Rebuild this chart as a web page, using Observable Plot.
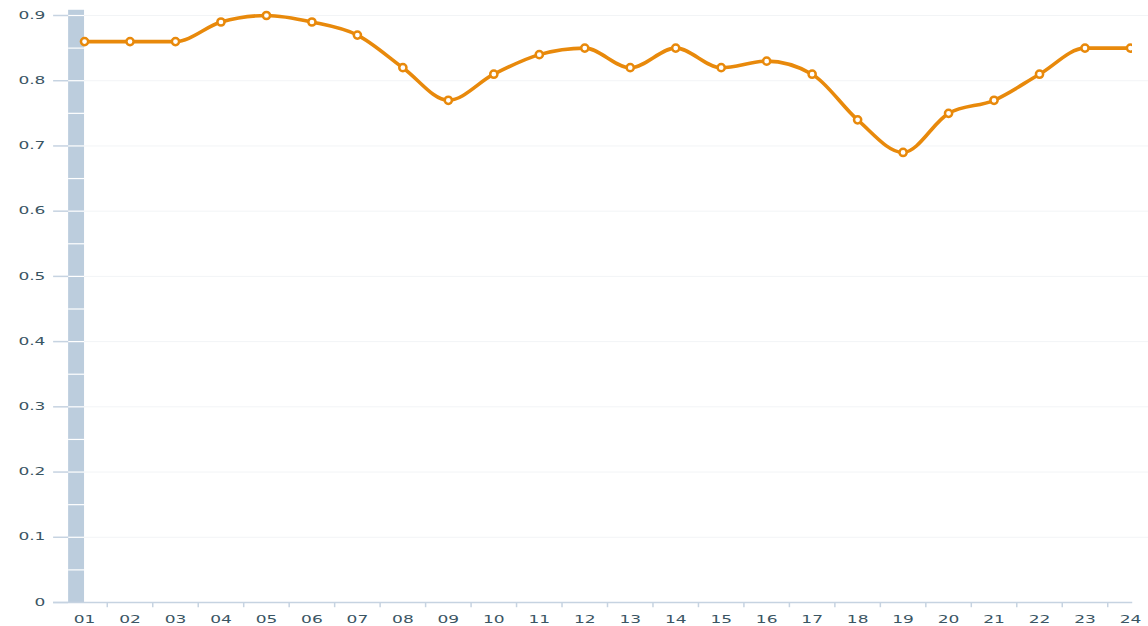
<!DOCTYPE html>
<html>
<head>
<meta charset="utf-8">
<script src="https://cdn.jsdelivr.net/npm/d3@7"></script>
<script src="https://cdn.jsdelivr.net/npm/@observablehq/plot@0.6"></script>
<style>
  html, body { margin: 0; padding: 0; background: #fff; }
  #chart svg { display: block; }
</style>
</head>
<body>
<div id="chart"></div>
<script>
const categories = ["01","02","03","04","05","06","07","08","09","10","11","12","13","14","15","16","17","18","19","20","21","22","23","24"];
const values = [0.86,0.86,0.86,0.89,0.90,0.89,0.87,0.82,0.77,0.81,0.84,0.85,0.82,0.85,0.82,0.83,0.81,0.74,0.69,0.75,0.77,0.81,0.85,0.85];
const yTicks = [0,0.1,0.2,0.3,0.4,0.5,0.6,0.7,0.8,0.9];
const bandLines = d3.range(0.05, 0.91, 0.05);

const data = categories.map((c, i) => ({i: i + 1, cat: c, v: values[i]}));
const xIdx = d3.range(1, categories.length + 1);
const xBounds = d3.range(1.5, categories.length, 1);

const orange = "#e8890b";
const textColor = "#3a5563";
const axisColor = "#c6d3e1";

const chart = Plot.plot({
  width: 1148,
  height: 626,
  marginTop: 0, marginBottom: 0, marginLeft: 0, marginRight: 16,
  x: {type: "linear", domain: [0.5, 24.5], range: [61.3, 1152.7], axis: null},
  y: {domain: [0, 0.9], range: [602, 15], axis: null},
  style: {fontFamily: "DejaVu Sans, sans-serif", fontSize: "10px", background: "#fff"},
  marks: [
    Plot.ruleY(yTicks.slice(1), {x1: 1, x2: 24.5, stroke: "#f2f4f6", strokeWidth: 1}),
    Plot.rectY([{x1: 0.65, x2: 1.0, y1: 0, y2: 0.908}], {x1: "x1", x2: "x2", y1: "y1", y2: "y2", fill: "#bccddd"}),
    Plot.ruleY(bandLines, {x1: 0.65, x2: 1.0, stroke: "#ffffff", strokeWidth: 1.2}),
    Plot.ruleY(yTicks, {x1: 0.32, x2: 0.65, stroke: axisColor, strokeWidth: 1.5}),
    Plot.ruleY([0], {x1: 0.32, x2: 24.05, stroke: axisColor, strokeWidth: 1.5}),
    Plot.ruleX(xBounds, {x: d => d, y1: 0, y2: -0.008, stroke: axisColor, strokeWidth: 1.5}),
    Plot.text(yTicks, {
      x: 0.14, y: d => d, text: d => d === 0 ? "0" : d3.format(".1f")(d),
      textAnchor: "end", fill: textColor, fontSize: 10, className: "stretch"
    }),
    Plot.text(xIdx, {
      x: d => d, y: 0, dy: 17, text: d => categories[d - 1],
      textAnchor: "middle", fill: textColor, fontSize: 10, className: "stretch"
    }),
    Plot.line(data, {x: "i", y: "v", curve: "monotone-x", stroke: orange, strokeWidth: 3.6, clip: true}),
    Plot.dot(data, {x: "i", y: "v", r: 3.6, fill: "#fff", stroke: orange, strokeWidth: 2.5, clip: true})
  ]
});
document.getElementById("chart").appendChild(chart);
d3.select(chart).selectAll("g.stretch text").each(function() {
  const len = this.getComputedTextLength();
  if (len > 0) {
    this.setAttribute("textLength", (len * 1.7).toFixed(2));
    this.setAttribute("lengthAdjust", "spacingAndGlyphs");
  }
});
</script>
</body>
</html>
